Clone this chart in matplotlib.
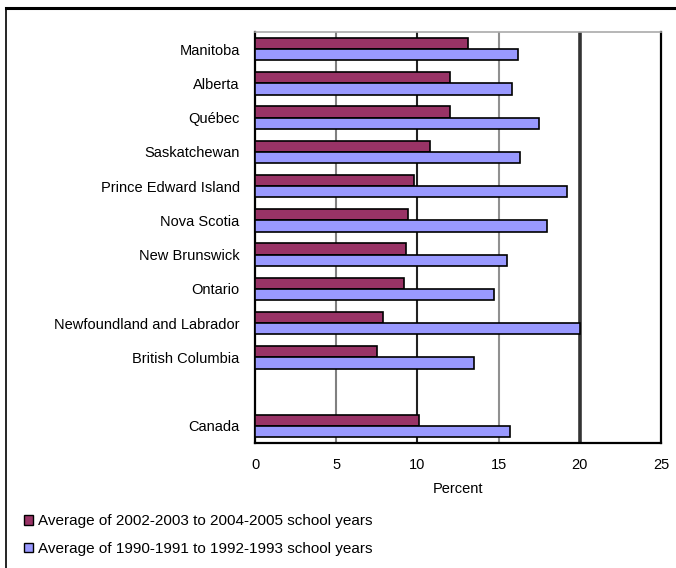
import matplotlib.pyplot as plt
from matplotlib.lines import Line2D
from matplotlib.patches import Patch

plt.rcParams['font.family'] = ['Liberation Sans', 'DejaVu Sans']

# ========== Data ==========
regions = ["Manitoba", "Alberta", "Québec", "Saskatchewan", "Prince Edward Island",
           "Nova Scotia", "New Brunswick", "Ontario", "Newfoundland and Labrador",
           "British Columbia", "Canada"]
recent = [13.1, 12.0, 12.0, 10.8, 9.8, 9.4, 9.3, 9.2, 7.9, 7.5, 10.1]
early = [16.2, 15.8, 17.5, 16.3, 19.2, 18.0, 15.5, 14.7, 20.0, 13.5, 15.7]
x_ticks = [0, 5, 10, 15, 20, 25]

recent_label = "Average of 2002-2003 to 2004-2005 school years"
early_label = "Average of 1990-1991 to 1992-1993 school years"

red = "#993366"
blue = "#9999ff"

# provinces in consecutive rows, one empty row before Canada
rows = list(range(len(regions) - 1)) + [len(regions)]

fig = plt.figure(figsize=(6.76, 5.68), dpi=100)
ax = fig.add_axes([255 / 676, 1 - 443 / 568, 406 / 676, 411 / 568])

h = 0.33
ax.barh([r - h / 2 for r in rows], recent, height=h, color=red,
        edgecolor="black", linewidth=1.2, zorder=3)
ax.barh([r + h / 2 for r in rows], early, height=h, color=blue,
        edgecolor="black", linewidth=1.2, zorder=3)

# vertical grid
for x, c, lw in [(5, "#808080", 1.5), (10, "#222222", 1.5),
                 (15, "#909090", 1.5), (20, "#333333", 2.6)]:
    ax.axvline(x, color=c, lw=lw, zorder=1)

ax.set_xlim(0, 25)
ax.set_ylim(len(regions) + 0.5, -0.5)
ax.set_xticks(x_ticks)
ax.set_xticklabels([str(t) for t in x_ticks])
ax.set_yticks(rows)
ax.set_yticklabels(regions)
ax.tick_params(axis="both", length=0, labelsize=10.5)
ax.tick_params(axis="x", pad=11)
ax.tick_params(axis="y", pad=11)
ax.set_xlabel("Percent", fontsize=10.5, labelpad=7)

ax.spines["top"].set_color("#aaaaaa")
ax.spines["top"].set_linewidth(1.2)
for s in ["left", "right", "bottom"]:
    ax.spines[s].set_color("black")
    ax.spines[s].set_linewidth(1.6)

handles = [Patch(facecolor=red, edgecolor="black", lw=1),
           Patch(facecolor=blue, edgecolor="black", lw=1)]
fig.legend(handles, [recent_label, early_label], loc="upper left",
           bbox_to_anchor=(18 / 676, 1 - 508 / 568), frameon=False,
           fontsize=11, handlelength=0.6, handleheight=0.6,
           handletextpad=0.3, labelspacing=0.9, borderaxespad=0)

# outer frame (top and left edges)
fig.add_artist(Line2D([6 / 676, 1], [1 - 7.5 / 568] * 2, color="black", lw=2.2))
fig.add_artist(Line2D([6 / 676] * 2, [0, 1 - 7.5 / 568], color="black", lw=1.2))

fig.savefig("out.png", dpi=100)
